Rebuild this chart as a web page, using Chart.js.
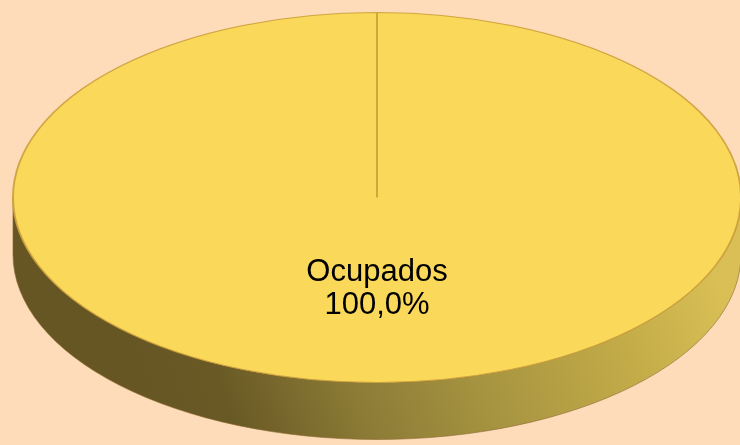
<!DOCTYPE html>
<html>
<head>
<meta charset="utf-8">
<script src="https://cdn.jsdelivr.net/npm/chart.js@4/dist/chart.umd.min.js"></script>
<style>
  html, body { margin: 0; padding: 0; background: #fedcba; }
  #wrap { width: 740px; height: 445px; }
</style>
</head>
<body>
<div id="wrap"><canvas id="grafico"></canvas></div>
<script>
// datos
var categorias = ['Ocupados'];
var valores = [100];
var colores = ['#f9d85a'];

var ANCHO_X = 365 / 185.5; // estiramiento horizontal de la tarta
var PROFUNDIDAD = 57;       // alto del lateral 3D

function centro(chart) {
  var arco = chart.getDatasetMeta(0).data[0];
  return { x: arco.x, y: arco.y, rx: arco.outerRadius * ANCHO_X, ry: arco.outerRadius };
}

var tarta3d = {
  id: 'tarta3d',
  beforeDatasetsDraw: function (chart) {
    var ctx = chart.ctx;
    var c = centro(chart);
    // lateral, sombreado en diagonal
    var grad = ctx.createLinearGradient(c.x - 227, c.y + 232, c.x + 323, c.y + 32);
    grad.addColorStop(0, '#665624');
    grad.addColorStop(0.14, '#695925');
    grad.addColorStop(0.34, '#8a7a35');
    grad.addColorStop(0.55, '#a59340');
    grad.addColorStop(0.82, '#c4ac48');
    grad.addColorStop(1, '#d9bf55');
    ctx.save();
    ctx.beginPath();
    ctx.ellipse(c.x, c.y, c.rx, c.ry, 0, 0, Math.PI, false);
    ctx.lineTo(c.x - c.rx, c.y + PROFUNDIDAD);
    ctx.ellipse(c.x, c.y + PROFUNDIDAD, c.rx, c.ry, 0, Math.PI, 0, true);
    ctx.closePath();
    ctx.fillStyle = grad;
    ctx.fill();
    ctx.strokeStyle = 'rgba(140,105,50,0.6)';
    ctx.lineWidth = 1;
    ctx.stroke();
    ctx.restore();
    // aplastar la cara superior
    ctx.save();
    ctx.translate(c.x, c.y);
    ctx.scale(ANCHO_X, 1);
    ctx.translate(-c.x, -c.y);
  },
  afterDatasetsDraw: function (chart) {
    var ctx = chart.ctx;
    ctx.restore();
    var meta = chart.getDatasetMeta(0);
    var total = valores.reduce(function (a, b) { return a + b; }, 0);
    ctx.save();
    ctx.fillStyle = '#000';
    ctx.font = '31px "Liberation Sans", Arial, sans-serif';
    ctx.textAlign = 'center';
    ctx.textBaseline = 'middle';
    meta.data.forEach(function (arco, i) {
      var medio = (arco.startAngle + arco.endAngle) / 2;
      var x = arco.x + Math.cos(medio) * arco.outerRadius * 0.5 * ANCHO_X;
      var y = arco.y + Math.sin(medio) * arco.outerRadius * 0.49;
      var pct = (valores[i] / total * 100).toFixed(1).replace('.', ',') + '%';
      ctx.fillText(categorias[i], x, y - 16);
      ctx.fillText(pct, x, y + 17);
    });
    ctx.restore();
  }
};

var chart = new Chart(document.getElementById('grafico'), {
  type: 'pie',
  data: {
    labels: categorias,
    datasets: [{
      data: valores,
      backgroundColor: colores,
      borderColor: 'rgba(205,160,60,0.9)',
      borderWidth: 1
    }]
  },
  options: {
    responsive: true,
    maintainAspectRatio: false,
    animation: false,
    layout: { padding: { top: 12, bottom: 62, left: 14, right: 0 } },
    plugins: {
      legend: { display: false },
      tooltip: { enabled: false }
    }
  },
  plugins: [tarta3d]
});
</script>
</body>
</html>
